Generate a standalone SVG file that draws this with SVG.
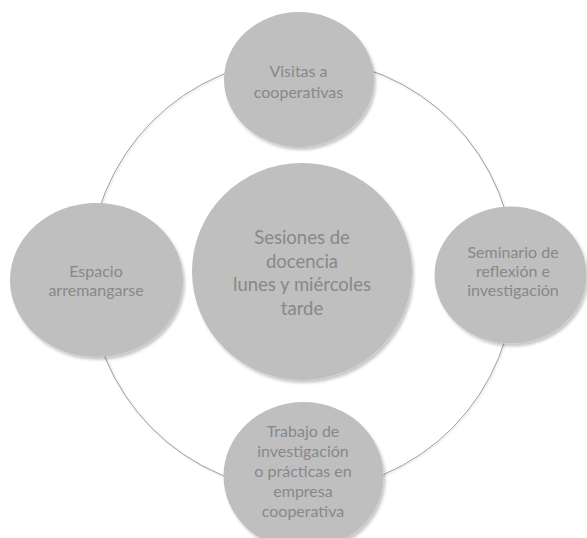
<svg xmlns="http://www.w3.org/2000/svg" width="587" height="538" viewBox="0 0 587 538">
  <defs>
    <filter id="sh" x="-10%" y="-10%" width="125%" height="125%">
      <feGaussianBlur in="SourceAlpha" stdDeviation="1.5"/>
      <feOffset dx="1.5" dy="2.5" result="o"/>
      <feComponentTransfer><feFuncA type="linear" slope="0.22"/></feComponentTransfer>
      <feMerge><feMergeNode/><feMergeNode in="SourceGraphic"/></feMerge>
    </filter>
    <filter id="lsh" x="-5%" y="-5%" width="110%" height="110%">
      <feGaussianBlur in="SourceAlpha" stdDeviation="0.8"/>
      <feOffset dx="0.8" dy="1.2" result="o"/>
      <feComponentTransfer><feFuncA type="linear" slope="0.2"/></feComponentTransfer>
      <feMerge><feMergeNode/><feMergeNode in="SourceGraphic"/></feMerge>
    </filter>
  </defs>
  <style>
    .node { fill: #bfbfbf; filter: url(#sh); }
    .lbl { font-family: Lato, "Open Sans", "Liberation Sans", sans-serif; font-size: 16px; font-weight: 400; fill: #888888; text-anchor: middle; }
    .big { font-size: 18.5px; }
    .arc { fill: none; stroke: #939393; stroke-width: 0.9; }
  </style>
  <rect width="587" height="538" fill="#ffffff"/>
  <g id="connectors" filter="url(#lsh)">
    <path class="arc" d="M302,59 A213,216 0 0 1 515,275"/>
    <path class="arc" d="M515,275 A213,216 0 0 1 302,491"/>
    <path class="arc" d="M302,491 A213,216 0 0 1 89,275"/>
    <path class="arc" d="M89,275 A213,216 0 0 1 302,59"/>
  </g>
  <g id="node-center">
    <ellipse class="node" cx="302" cy="271.5" rx="110" ry="108.5"/>
    <text class="lbl big" x="302" y="244">Sesiones de</text>
    <text class="lbl big" x="302" y="268">docencia</text>
    <text class="lbl big" x="302" y="291">lunes y miércoles</text>
    <text class="lbl big" x="302" y="315">tarde</text>
  </g>
  <g id="node-top">
    <ellipse class="node" cx="299" cy="79.5" rx="75" ry="67.5"/>
    <text class="lbl" x="298.5" y="77">Visitas a</text>
    <text class="lbl" x="298.5" y="98">cooperativas</text>
  </g>
  <g id="node-right">
    <ellipse class="node" cx="510.5" cy="275" rx="76" ry="68.5"/>
    <text class="lbl" x="513" y="258">Seminario de</text>
    <text class="lbl" x="513" y="277">reflexión e</text>
    <text class="lbl" x="513" y="295.5">investigación</text>
  </g>
  <g id="node-bottom">
    <ellipse class="node" cx="303.5" cy="476" rx="80" ry="74"/>
    <text class="lbl" x="303" y="437">Trabajo de</text>
    <text class="lbl" x="303" y="457">investigación</text>
    <text class="lbl" x="303" y="477">o prácticas en</text>
    <text class="lbl" x="303" y="497">empresa</text>
    <text class="lbl" x="303" y="517">cooperativa</text>
  </g>
  <g id="node-left">
    <ellipse class="node" cx="96.5" cy="280" rx="86.5" ry="77"/>
    <text class="lbl" x="96" y="277">Espacio</text>
    <text class="lbl" x="96" y="296">arremangarse</text>
  </g>
</svg>
